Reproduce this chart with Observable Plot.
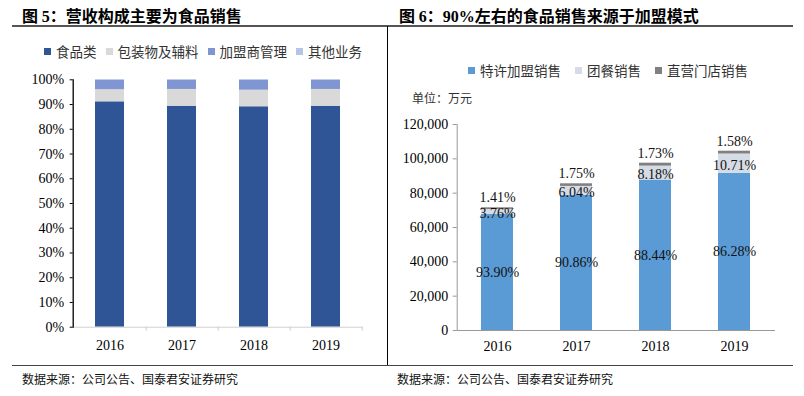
<!DOCTYPE html>
<html><head><meta charset="utf-8">
<script src="https://cdn.jsdelivr.net/npm/d3@7"></script>
<script src="https://cdn.jsdelivr.net/npm/@observablehq/plot@0.6"></script>
<style>
body{margin:0;background:#fff;}
#root{position:relative;width:804px;height:396px;overflow:hidden;font-family:"Noto Sans CJK SC",sans-serif;color:#000;}
.abs{position:absolute;white-space:nowrap;}
.title{font-size:16px;font-weight:bold;line-height:20px;}
.title .n{font-family:"Liberation Serif",serif;font-weight:bold;}
.foot{font-size:12px;line-height:16px;color:#111;}
.legend{display:flex;align-items:center;font-size:13.5px;line-height:18px;color:#333;}
.legend .it{display:flex;align-items:center;}
.legend .sw{width:7px;height:7px;margin-right:5px;}
</style></head>
<body><div id="root">
<div class="abs title" style="left:22px;top:5px;">图 <span class="n">5</span>：营收构成主要为食品销售</div>
<div class="abs title" style="left:399px;top:5px;">图 <span class="n">6</span>：<span class="n">90%</span>左右的食品销售来源于加盟模式</div>
<div class="abs" style="left:12px;top:25px;width:781px;height:1.5px;background:#555;"></div>
<div class="abs" style="left:387px;top:26px;width:1px;height:339px;background:#000;"></div>
<div class="abs" style="left:12px;top:365px;width:781px;height:1px;background:#444;"></div>
<div class="abs foot" style="left:22px;top:371px;">数据来源：公司公告、国泰君安证券研究</div>
<div class="abs foot" style="left:397px;top:371px;">数据来源：公司公告、国泰君安证券研究</div>
<div class="abs legend" id="legL" style="left:44px;top:42px;gap:9px;"></div>
<div class="abs legend" id="legR" style="left:468px;top:61px;gap:14px;"></div>
<div class="abs foot" style="left:412px;top:90px;color:#333;">单位：万元</div>
<div class="abs" id="plotL" style="left:0px;top:60px;"></div>
<div class="abs" id="plotR" style="left:400px;top:100px;"></div>
</div>
<script>
// ---- data: left chart (share of revenue, %) ----
const years = ["2016", "2017", "2018", "2019"];
const leftSeries = ["食品类", "包装物及辅料", "加盟商管理", "其他业务"];
const foodShare = [91.1, 89.3, 89.1, 89.3];
const packagingShare = [4.9, 6.8, 6.7, 6.8];
const franchiseMgmtShare = [3.9, 3.8, 4.1, 3.8];
const otherShare = [0.1, 0.1, 0.1, 0.1];
const leftTicks = [0, 10, 20, 30, 40, 50, 60, 70, 80, 90, 100];
const leftColors = ["#2f5597", "#d9d9d9", "#7f96d3", "#b4c5e8"];

// ---- data: right chart (万元) ----
const rightSeries = ["特许加盟销售", "团餐销售", "直营门店销售"];
const franchiseSales = [67750, 78710, 87640, 91600];
const groupMealSales = [2710, 5230, 8110, 11200];
const directStoreSales = [1020, 1520, 1710, 1650];
const franchisePct = ["93.90%", "90.86%", "88.44%", "86.28%"];
const groupMealPct = ["3.76%", "6.04%", "8.18%", "10.71%"];
const directStorePct = ["1.41%", "1.75%", "1.73%", "1.58%"];
const rightTicks = [0, 20000, 40000, 60000, 80000, 100000, 120000];
const rightColors = ["#5b9bd5", "#d6dce5", "#808080"];

function legend(el, names, colors) {
  const box = document.getElementById(el);
  names.forEach((n, i) => {
    const it = document.createElement("div"); it.className = "it";
    const sw = document.createElement("div"); sw.className = "sw"; sw.style.background = colors[i];
    const t = document.createElement("span"); t.textContent = n;
    it.appendChild(sw); it.appendChild(t); box.appendChild(it);
  });
}
legend("legL", leftSeries, leftColors);
legend("legR", rightSeries, rightColors);

const serif = "Liberation Serif, Times New Roman, serif";

// ---- left plot ----
const leftArrays = [foodShare, packagingShare, franchiseMgmtShare, otherShare];
const leftData = years.flatMap((y, i) => leftSeries.map((s, j) => ({year: y, series: s, value: leftArrays[j][i]})));
const LW = 380, LML = 72.7, LMR = 18.3;
const lStep = (LW - LML - LMR) / years.length;
const plotL = Plot.plot({
  width: LW, height: 300, marginLeft: LML, marginRight: LMR, marginTop: 19.3, marginBottom: 33.3,
  style: {background: "transparent"},
  x: {domain: years, paddingInner: 0.6, paddingOuter: 0.3, axis: null},
  y: {domain: [0, 100], axis: null},
  color: {domain: leftSeries, range: leftColors},
  marks: [
    Plot.barY(leftData, {x: "year", y: "value", fill: "series", order: leftSeries}),
    Plot.frame({anchor: "bottom", stroke: "#d0d0d0"}),
    Plot.ruleX(years, {x: d => d, dx: lStep / 2, y1: 0, y2: 0, insetBottom: -4, stroke: "#d0d0d0"}),
    Plot.frame({anchor: "left", stroke: "#000", strokeWidth: 1.3}),
    Plot.axisY(leftTicks, {label: null, tickSize: 3, tickPadding: 6, tickFormat: d => d + "%", fontSize: 14, fontFamily: serif, stroke: "#000", color: "#000"}),
    Plot.axisX({label: null, tickSize: 0, tickPadding: 13, fontSize: 14, fontFamily: serif, color: "#000"})
  ]
});
document.getElementById("plotL").appendChild(plotL);

// ---- right plot ----
const rightArrays = [franchiseSales, groupMealSales, directStoreSales];
const rightData = years.flatMap((y, i) => rightSeries.map((s, j) => ({year: y, series: s, value: rightArrays[j][i]})));
const labelsFranchise = years.map((y, i) => ({year: y, v: franchiseSales[i] / 2, t: franchisePct[i]}));
const labelsGroup = years.map((y, i) => ({year: y, v: franchiseSales[i] + groupMealSales[i] / 2, t: groupMealPct[i]}));
const labelsDirect = years.map((y, i) => ({year: y, v: franchiseSales[i] + groupMealSales[i] + directStoreSales[i], t: directStorePct[i]}));
const txt = {x: "year", y: "v", text: "t", fontSize: 14, fontFamily: serif, fill: "#111"};
const plotR = Plot.plot({
  width: 390, height: 260, marginLeft: 56.7, marginRight: 16, marginTop: 24, marginBottom: 30,
  style: {background: "transparent"},
  x: {domain: years, paddingInner: 0.6, paddingOuter: 0.3, axis: null},
  y: {domain: [0, 120000], axis: null},
  color: {domain: rightSeries, range: rightColors},
  marks: [
    Plot.barY(rightData, {x: "year", y: "value", fill: "series", order: rightSeries}),
    Plot.frame({anchor: "bottom", stroke: "#999"}),
    Plot.frame({anchor: "left", stroke: "#999"}),
    Plot.axisY(rightTicks, {label: null, tickSize: 4, tickPadding: 5, tickFormat: d3.format(","), fontSize: 14, fontFamily: serif, stroke: "#999", color: "#000"}),
    Plot.axisX({label: null, tickSize: 0, tickPadding: 11, fontSize: 14, fontFamily: serif, color: "#000"}),
    Plot.text(labelsFranchise, txt),
    Plot.text(labelsGroup, {...txt, dy: 1.5}),
    Plot.text(labelsDirect, {...txt, dy: -10})
  ]
});
document.getElementById("plotR").appendChild(plotR);
</script>
</body></html>
